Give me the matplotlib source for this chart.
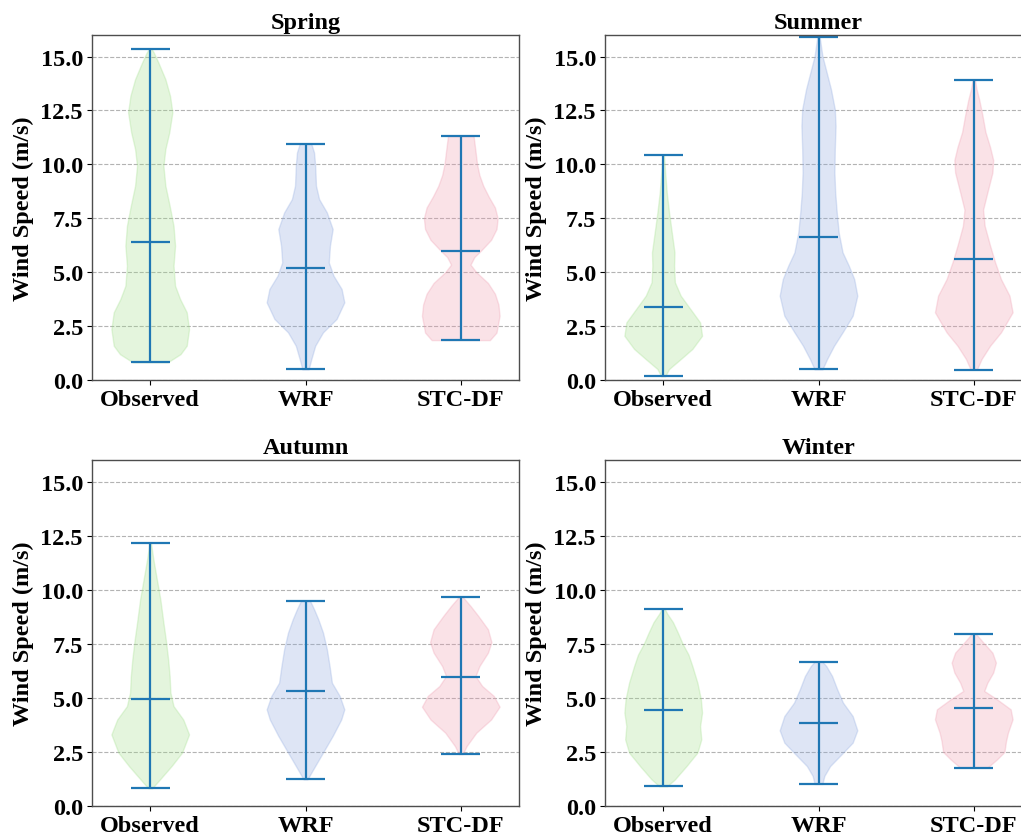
import matplotlib
matplotlib.use("Agg")
import matplotlib.pyplot as plt
import numpy as np

plt.rcParams['font.family'] = ['Liberation Serif', 'DejaVu Serif']
plt.rcParams['font.weight'] = 'bold'

models = ["Observed", "WRF", "STC-DF"]
seasons = ["Spring", "Summer", "Autumn", "Winter"]
yticks = [0.0, 2.5, 5.0, 7.5, 10.0, 12.5, 15.0]

# summary statistics (min, mean, max) per season, per model
mins = {"Spring": [0.82, 0.49, 1.85], "Summer": [0.17, 0.49, 0.48],
        "Autumn": [0.82, 1.23, 2.40], "Winter": [0.91, 1.02, 1.77]}
means = {"Spring": [6.41, 5.21, 5.96], "Summer": [3.40, 6.63, 5.61],
         "Autumn": [4.96, 5.33, 5.98], "Winter": [4.44, 3.84, 4.53]}
maxs = {"Spring": [15.37, 10.95, 11.31], "Summer": [10.43, 15.91, 13.93],
        "Autumn": [12.15, 9.48, 9.67], "Winter": [9.11, 6.67, 7.97]}

# density outlines: wind speed levels and relative half-widths
spring_obs_y = [0.82, 1.20, 1.59, 2.36, 3.14, 3.75, 4.37, 5.30, 6.23, 7.15, 8.08, 9.01, 9.93, 10.71, 11.48, 12.41, 13.18, 13.95, 14.72, 15.19, 15.37]
spring_obs_w = [0.45, 0.78, 0.94, 1.00, 0.94, 0.77, 0.64, 0.60, 0.64, 0.60, 0.50, 0.39, 0.34, 0.39, 0.49, 0.57, 0.51, 0.39, 0.21, 0.09, 0.03]
spring_wrf_y = [0.49, 0.97, 1.59, 2.21, 2.83, 3.60, 4.22, 4.84, 5.45, 6.23, 7.00, 7.77, 8.39, 9.01, 9.93, 10.55, 10.95]
spring_wrf_w = [0.08, 0.15, 0.25, 0.45, 0.80, 1.00, 0.93, 0.72, 0.60, 0.63, 0.70, 0.55, 0.35, 0.27, 0.25, 0.22, 0.15]
spring_stc_y = [1.85, 2.20, 2.98, 3.50, 4.00, 4.50, 5.00, 5.35, 5.70, 6.00, 6.50, 7.00, 7.50, 8.00, 8.50, 9.00, 9.50, 10.00, 10.60, 11.31]
spring_stc_w = [0.75, 0.92, 1.00, 0.97, 0.88, 0.70, 0.40, 0.25, 0.35, 0.52, 0.78, 0.92, 0.95, 0.88, 0.72, 0.58, 0.48, 0.42, 0.38, 0.33]

summer_obs_y = [0.17, 0.51, 0.97, 1.44, 2.05, 2.67, 3.29, 3.91, 4.53, 5.30, 5.92, 6.84, 7.77, 8.70, 9.62, 10.43]
summer_obs_w = [0.05, 0.15, 0.45, 0.75, 1.00, 0.95, 0.70, 0.45, 0.30, 0.28, 0.29, 0.22, 0.15, 0.09, 0.05, 0.02]
summer_wrf_y = [0.49, 0.97, 1.59, 2.21, 2.98, 3.91, 4.68, 5.30, 5.92, 6.84, 7.77, 8.70, 9.62, 10.71, 11.79, 12.56, 13.49, 14.26, 15.03, 15.91]
summer_wrf_w = [0.10, 0.22, 0.40, 0.62, 0.88, 1.00, 0.92, 0.78, 0.62, 0.52, 0.47, 0.43, 0.41, 0.42, 0.44, 0.42, 0.32, 0.21, 0.10, 0.03]
summer_stc_y = [0.48, 0.97, 1.59, 2.21, 3.14, 3.91, 4.68, 5.45, 6.23, 7.15, 7.90, 8.70, 9.62, 10.20, 10.80, 11.50, 12.30, 13.00, 13.50, 13.93]
summer_stc_w = [0.08, 0.20, 0.42, 0.70, 1.00, 0.92, 0.70, 0.55, 0.42, 0.28, 0.24, 0.35, 0.48, 0.50, 0.42, 0.30, 0.22, 0.14, 0.07, 0.03]

autumn_obs_y = [0.82, 1.23, 1.85, 2.47, 3.31, 4.00, 4.62, 5.24, 6.00, 6.80, 7.70, 8.60, 9.56, 10.48, 11.41, 12.15]
autumn_obs_w = [0.05, 0.25, 0.55, 0.82, 1.00, 0.85, 0.60, 0.52, 0.50, 0.46, 0.40, 0.33, 0.26, 0.17, 0.08, 0.02]
autumn_wrf_y = [1.23, 1.70, 2.47, 3.24, 4.00, 4.47, 5.09, 5.70, 6.47, 7.25, 8.02, 8.63, 9.10, 9.48]
autumn_wrf_w = [0.05, 0.20, 0.45, 0.70, 0.92, 1.00, 0.88, 0.68, 0.62, 0.55, 0.45, 0.33, 0.22, 0.12]
autumn_stc_y = [2.40, 2.77, 3.39, 4.00, 4.59, 5.09, 5.55, 6.01, 6.47, 7.09, 7.58, 8.17, 8.79, 9.25, 9.67]
autumn_stc_w = [0.05, 0.15, 0.40, 0.78, 1.00, 0.85, 0.55, 0.38, 0.48, 0.70, 0.79, 0.70, 0.45, 0.25, 0.05]

winter_obs_y = [0.91, 1.23, 1.85, 2.47, 3.08, 3.70, 4.32, 4.93, 5.70, 6.47, 7.00, 7.50, 8.00, 8.50, 8.90, 9.11]
winter_obs_w = [0.10, 0.30, 0.60, 0.88, 0.98, 0.95, 1.00, 0.97, 0.88, 0.75, 0.65, 0.50, 0.38, 0.25, 0.10, 0.04]
winter_wrf_y = [1.02, 1.39, 1.85, 2.31, 2.93, 3.50, 4.16, 4.78, 5.40, 6.01, 6.47, 6.67]
winter_wrf_w = [0.10, 0.15, 0.30, 0.55, 0.88, 1.00, 0.88, 0.63, 0.48, 0.35, 0.20, 0.10]
winter_stc_y = [1.77, 2.16, 2.50, 3.00, 3.39, 4.01, 4.47, 4.93, 5.32, 5.70, 6.17, 6.63, 7.09, 7.55, 7.97]
winter_stc_w = [0.35, 0.60, 0.79, 0.83, 0.88, 1.00, 0.95, 0.60, 0.27, 0.35, 0.50, 0.57, 0.48, 0.25, 0.05]

outlines = {
    "Spring": [(spring_obs_y, spring_obs_w), (spring_wrf_y, spring_wrf_w), (spring_stc_y, spring_stc_w)],
    "Summer": [(summer_obs_y, summer_obs_w), (summer_wrf_y, summer_wrf_w), (summer_stc_y, summer_stc_w)],
    "Autumn": [(autumn_obs_y, autumn_obs_w), (autumn_wrf_y, autumn_wrf_w), (autumn_stc_y, autumn_stc_w)],
    "Winter": [(winter_obs_y, winter_obs_w), (winter_wrf_y, winter_wrf_w), (winter_stc_y, winter_stc_w)],
}

fill_colors = ["#9ede87", "#8aa5de", "#ee98ac"]
line_color = "#1f77b4"
FS = 17.5

W, H = 1021, 837
fig = plt.figure(figsize=(W / 100, H / 100), dpi=100)
# axes boxes in pixels: (left, top, width, height)
boxes = [(92, 36, 427, 345), (605, 36, 427, 345), (92, 461, 427, 346), (605, 461, 427, 346)]

for season, (l, t, w, h) in zip(seasons, boxes):
    ax = fig.add_axes([l / W, 1 - (t + h) / H, w / W, h / H])
    stats = []
    for i, (ys, ws) in enumerate(outlines[season]):
        stats.append(dict(coords=np.array(ys), vals=np.array(ws),
                          mean=means[season][i], median=means[season][i],
                          min=mins[season][i], max=maxs[season][i]))
    parts = ax.violin(stats, positions=[1, 2, 3], widths=0.5,
                      showmeans=True, showextrema=True)
    for body, c in zip(parts['bodies'], fill_colors):
        body.set_facecolor(c)
        body.set_edgecolor(c)
        body.set_alpha(0.28)
    for key in ('cmeans', 'cmins', 'cmaxes', 'cbars'):
        parts[key].set_color(line_color)
        parts[key].set_linewidth(1.6)
    ax.set_ylim(0, 16)
    ax.set_yticks(yticks)
    ax.set_yticklabels([f"{v:.1f}" for v in yticks])
    ax.set_xticks([1, 2, 3])
    ax.set_xticklabels(models)
    ax.tick_params(labelsize=FS, pad=3)
    for lab in ax.get_xticklabels() + ax.get_yticklabels():
        lab.set_fontweight('bold')
    ax.set_ylabel("Wind Speed (m/s)", fontsize=FS, fontweight='bold', labelpad=5)
    ax.set_title(season, fontsize=FS, fontweight='bold', pad=5)
    ax.yaxis.grid(True, linestyle='--', color='0.7', linewidth=0.8)
    ax.set_axisbelow(True)
    for sp in ax.spines.values():
        sp.set_color('0.3')
        sp.set_linewidth(1.0)

fig.savefig("out.png", dpi=100)
